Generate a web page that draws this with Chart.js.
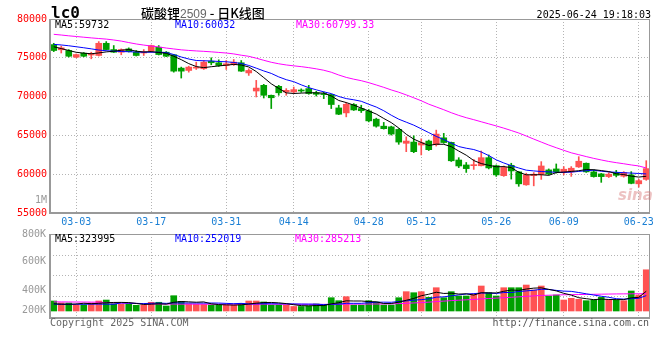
<!DOCTYPE html>
<html><head><meta charset="utf-8">
<script src="https://cdn.jsdelivr.net/npm/chart.js@4.4.1/dist/chart.umd.min.js"></script>
<style>
html,body{margin:0;padding:0;background:#fff;}
#wrap{position:relative;width:660px;height:360px;overflow:hidden;font-family:"DejaVu Sans Mono",monospace;}
canvas{position:absolute;left:0;top:0;}
.t{position:absolute;white-space:nowrap;font-size:10px;line-height:10px;}
.bg{background:#fff;}
</style></head><body>
<div id="wrap">
<canvas id="vol" width="660" height="360"></canvas>
<canvas id="price" width="660" height="360"></canvas>
<div class="t" style="left:51px;top:5px;font-size:16px;line-height:16px;font-weight:bold;color:#000">lc0</div>
<div class="t" style="left:141px;top:5px;font-family:'Noto Sans CJK SC';font-size:13px;line-height:15px;font-weight:500;color:#000">碳酸锂<span style="font-family:'Liberation Sans';font-size:12px;font-weight:normal;color:#666">2509</span> - 日K线图</div>
<div class="t" style="right:9px;top:10px;color:#000">2025-06-24 19:18:03</div>
<div class="t bg" style="left:55px;top:20px;line-height:9px;color:#000">MA5:59732</div>
<div class="t bg" style="left:175px;top:20px;line-height:9px;color:#0000ff">MA10:60032</div>
<div class="t bg" style="left:296px;top:20px;line-height:9px;color:#ff00ff">MA30:60799.33</div>
<div class="t" style="left:35px;top:195px;color:#999">1M</div>
<div class="t" style="left:618px;top:188px;font-family:'DejaVu Sans';font-style:italic;font-weight:bold;font-size:15px;line-height:15px;color:rgba(215,120,120,0.45)">sina</div>
<div class="t bg" style="left:55px;top:235px;line-height:8px;color:#000">MA5:323995</div>
<div class="t bg" style="left:175px;top:235px;line-height:8px;color:#0000ff">MA10:252019</div>
<div class="t bg" style="left:295px;top:235px;line-height:8px;color:#ff00ff">MA30:285213</div>
<div class="t" style="left:50px;top:318px;color:#666">Copyright 2025 SINA.COM</div>
<div class="t" style="right:11px;top:318px;color:#555">http://finance.sina.com.cn</div>
</div>
<script>
const dates = ['02-26','02-27','02-28',
'03-03','03-04','03-05','03-06','03-07','03-10','03-11','03-12','03-13','03-14','03-17','03-18','03-19','03-20','03-21','03-24','03-25','03-26','03-27','03-28','03-31',
'04-01','04-02','04-03','04-07','04-08','04-09','04-10','04-11','04-14','04-15','04-16','04-17','04-18','04-21','04-22','04-23','04-24','04-25','04-28','04-29','04-30',
'05-06','05-07','05-08','05-09','05-12','05-13','05-14','05-15','05-16','05-19','05-20','05-21','05-22','05-23','05-26','05-27','05-28','05-29','05-30',
'06-03','06-04','06-05','06-06','06-09','06-10','06-11','06-12','06-13','06-16','06-17','06-18','06-19','06-20','06-23','06-24'];
const tickDates = ['03-03','03-17','03-31','04-14','04-28','05-12','05-26','06-09','06-23'];

const opens = [76700,76030,75940,75080,75590,75360,75300,76870,76060,75720,
76150,75720,75620,75850,76360,75720,75390,73670,73370,73670,
73590,74560,74360,74010,74140,74360,73050,70720,71450,70170,
71320,70590,70600,70800,71030,70510,70390,70260,68540,67900,
68980,68460,68150,67090,66190,66100,65770,63980,64140,63760,
64270,63800,64690,64100,61830,61190,61100,61090,62130,61100,
59810,61150,60300,58630,59810,59970,60550,60680,60230,60300,
60940,61410,60300,60040,59690,60210,59740,59910,58760,59330];
const highs = [76870,76510,76060,75490,75680,75720,77090,77090,76580,76150,
76280,75940,76060,76640,76580,75810,75420,73800,73920,74440,
74650,75000,74740,74650,74780,74650,73590,72090,71580,70200,
71450,71030,71230,71000,71450,70680,70590,70300,68890,69230,
69100,68890,68330,67220,66670,66190,65870,64820,64950,64560,
64400,65680,65260,64140,62130,61510,61900,62990,62480,61190,
61060,61410,60360,60130,60210,61620,60680,61320,60980,60980,
62260,61450,60550,60100,60210,60490,60330,60330,59360,61740];
const lows = [75800,75620,75100,75000,75130,74870,75230,76000,75680,75390,
75740,75230,75300,75780,75360,75140,73150,72390,73150,73500,
73500,74100,73890,73500,74010,73240,72730,69950,69820,68460,
70170,70170,70390,70550,70300,70070,69740,68460,67670,67390,
68210,67950,66740,66060,65810,65040,63850,62900,62770,62480,
63050,63630,63980,61640,60850,60230,60620,61060,60680,59720,
59720,59370,58440,58570,58500,59330,59910,60130,59910,59720,
60870,60230,59620,58950,59570,59650,59620,58760,58330,59210];
const closes = [75940,76280,75200,75420,75200,75490,76870,76060,75720,76060,
75810,75300,75680,76580,75420,75200,73280,73280,73800,73800,
74440,74360,74010,74230,74440,73280,73370,71100,70170,69850,
70490,70810,70900,70720,70390,70300,70260,68980,67730,69010,
68280,68180,66870,66190,65870,65170,64140,64270,62900,64050,
63160,65170,64080,61730,61060,60720,61180,62130,60810,59910,
60870,60420,58760,59910,60000,61060,60010,60300,60640,60770,
61670,60300,59690,59690,60000,59850,60210,58820,59170,60720];

const ma5 = [76420,76190,75940,75710,75600,75520,75630,75760,75850,75980,
76060,75850,75750,75800,75680,75580,75200,74760,74250,73870,
73730,73850,73950,74050,74150,74070,73820,73230,72450,71650,
71050,70480,70400,70450,70500,70480,70450,70080,69500,69230,
68900,68520,68150,67750,67180,66650,65950,65150,64520,64090,
63700,63870,63850,63550,62980,62450,61760,61370,61150,60960,
60980,60850,60250,59920,59930,59930,59850,60210,60270,60360,
60450,60600,60580,60470,60340,60060,59950,59750,59630,59732];
const ma10 = [76731,76654,76551,76423,76295,76154,76000,75910,75859,75808,
75782,75744,75718,75718,75718,75680,75423,75103,74846,74654,
74616,74590,74526,74487,74398,74269,74013,73667,73308,72987,
72539,72180,71923,71513,71154,70872,70616,70385,70013,69744,
69590,69398,69013,68654,68180,67603,67090,66706,66321,65847,
65360,64872,64462,64013,63565,63347,63180,62860,62400,61850,
61450,61100,60800,60520,60424,60347,60296,60244,60232,60270,
60360,60449,60514,60385,60296,60244,60193,60142,60091,60032];
const ma30 = [78026,77936,77833,77744,77654,77564,77487,77410,77295,77154,
76962,76782,76641,76513,76398,76256,76141,76026,75949,75885,
75834,75769,75693,75616,75500,75334,75192,74949,74680,74423,
74231,74077,73962,73859,73731,73577,73398,73141,72782,72474,
72244,72051,71795,71500,71193,70859,70564,70218,69846,69462,
69026,68667,68308,67924,67577,67282,67026,66757,66488,66219,
65936,65629,65308,64924,64526,64141,63757,63411,63077,62757,
62513,62270,62039,61834,61641,61487,61346,61193,61064,60799.33];

const volumes = [164000,134000,131000,103000,103000,131000,164000,180000,120000,110000,
115000,93000,98000,143000,143000,82000,251000,159000,115000,112000,
108000,98000,93000,93000,93000,126000,164000,164000,148000,98000,
98000,98000,74000,74000,82000,115000,98000,218000,169000,235000,
98000,98000,169000,148000,98000,98000,218000,317000,300000,317000,
225000,382000,218000,317000,246000,246000,279000,410000,300000,246000,
382000,382000,382000,426000,344000,410000,246000,262000,180000,208000,
192000,169000,180000,225000,180000,180000,169000,328000,262000,676000];
const vma5 = [118000,112000,110000,115000,127000,120000,126000,136000,140000,141000,
138000,124000,107000,112000,118000,112000,143000,156000,150000,144000,
149000,118000,105000,101000,97000,101000,114000,128000,139000,140000,
134000,121000,103000,88000,85000,89000,89000,117000,136000,167000,
164000,164000,154000,150000,122000,122000,146000,176000,206000,250000,
275000,308000,288000,292000,278000,282000,261000,300000,296000,296000,
323000,344000,338000,360000,375000,380000,355000,330000,290000,261000,
218000,202000,186000,195000,189000,187000,187000,216000,224000,323995];
const vma10 = [112000,110000,109000,110000,111000,112000,113000,112000,110000,134000,
129000,125000,122000,126000,130000,125000,134000,131000,131000,131000,
130000,131000,130000,125000,120000,125000,116000,117000,120000,119000,
118000,118000,116000,114000,113000,112000,105000,110000,112000,126000,
126000,126000,136000,143000,145000,143000,155000,165000,178000,186000,
199000,227000,232000,249000,264000,279000,285000,294000,294000,287000,
303000,303000,319000,330000,340000,356000,353000,338000,326000,322000,
303000,282000,262000,242000,225000,202000,195000,201000,209000,252019];
const vma30 = [150000,149000,148000,147000,147000,146000,145000,138000,132000,128000,
126000,125000,118000,116000,115000,114000,114000,113000,113000,112000,
112000,111000,111000,110000,110000,110000,111000,111000,112000,112000,
111000,111000,110000,110000,110000,109000,109000,110000,111000,112000,
113000,113000,114000,115000,116000,117000,121000,126000,132000,138000,
145000,155000,162000,170000,177000,183000,190000,198000,205000,211000,
218000,225000,232000,240000,248000,255000,259000,263000,266000,268000,
270000,272000,274000,276000,278000,280000,281000,282000,283000,285213];

const priceTicks = [55000,60000,65000,70000,75000,80000];
const volTickValues = [16400,344400,820000,1262800];
const volTickLabels = ['200K','400K','600K','800K'];
const volGridValues = [246000,578920,906920];

const RED = '#ff5252', GREEN = '#00a000', GRID = '#b4b4b4';
const MONO = "'DejaVu Sans Mono', monospace";
const up = closes.map((c,i)=> c >= opens[i]);
const colors = up.map(u => u ? RED : GREEN);
const tickIdx = new Set(tickDates.map(d => dates.indexOf(d)));

const framePlugin = {
  id: 'frame',
  afterDraw(chart) {
    const a = chart.chartArea, c = chart.ctx;
    c.save();
    c.strokeStyle = '#999';
    c.lineWidth = 1;
    c.beginPath();
    c.moveTo(a.left, a.top + 0.5); c.lineTo(a.right, a.top + 0.5);
    c.moveTo(a.right - 0.5, a.top); c.lineTo(a.right - 0.5, a.bottom);
    c.stroke();
    c.lineWidth = 2;
    c.beginPath();
    c.moveTo(a.left, a.top); c.lineTo(a.left, a.bottom + 1);
    c.moveTo(a.left, a.bottom); c.lineTo(a.right, a.bottom);
    c.stroke();
    c.restore();
  }
};

const xCommon = (showLabels) => ({
  type: 'category', offset: true,
  grid: { offset: false, drawTicks: false, lineWidth: 1,
    color: ctx => tickIdx.has(ctx.index) ? GRID : 'rgba(0,0,0,0)' },
  border: { display: false, dash: [1,2] },
  ticks: { display: showLabels, autoSkip: false, maxRotation: 0, minRotation: 0, padding: 3,
    color: '#1a7fd4', font: { family: MONO, size: 10 },
    callback: (v, i) => tickIdx.has(i) ? dates[i] : '' },
  afterFit: s => { s.height = showLabels ? 20 : 0; }
});

new Chart(document.getElementById('price'), {
  type: 'bar',
  data: {
    labels: dates,
    datasets: [
      { type: 'line', data: ma5, borderColor: '#000', borderWidth: 1, pointRadius: 0, order: 0 },
      { type: 'line', data: ma10, borderColor: '#0000ff', borderWidth: 1, pointRadius: 0, order: 0 },
      { type: 'line', data: ma30, borderColor: '#ff00ff', borderWidth: 1, pointRadius: 0, order: 0 },
      { type: 'bar', data: opens.map((o,i)=>[Math.min(o,closes[i]), Math.max(o,closes[i])]),
        backgroundColor: colors, barThickness: 6, minBarLength: 1, grouped: false, order: 2 },
      { type: 'bar', data: lows.map((l,i)=>[l, highs[i]]),
        backgroundColor: colors, barThickness: 1, grouped: false, order: 3 }
    ]
  },
  options: {
    responsive: false, animation: false, events: [],
    layout: { padding: { top: 19, bottom: 127, left: 0, right: 10 } },
    plugins: { legend: { display: false }, tooltip: { enabled: false } },
    scales: {
      x: xCommon(true),
      y: {
        min: 55000, max: 80000,
        afterBuildTicks: s => { s.ticks = priceTicks.map(v => ({ value: v })); },
        ticks: { autoSkip: false, color: '#ff0000', font: { family: MONO, size: 10 }, padding: 3,
          callback: v => String(v) },
        grid: { drawTicks: false, lineWidth: 1,
          color: ctx => (ctx.tick && ctx.tick.value > 55000 && ctx.tick.value < 80000) ? GRID : 'rgba(0,0,0,0)' },
        border: { display: false, dash: [1,2] },
        afterFit: s => { s.width = 50; }
      }
    }
  },
  plugins: [framePlugin]
});

const volTicksAll = [...volGridValues, ...volTickValues].sort((a,b)=>a-b);
new Chart(document.getElementById('vol'), {
  type: 'bar',
  data: {
    labels: dates,
    datasets: [
      { type: 'line', data: vma5, borderColor: '#000', borderWidth: 1, pointRadius: 0, order: 0 },
      { type: 'line', data: vma10, borderColor: '#0000ff', borderWidth: 1, pointRadius: 0, order: 0 },
      { type: 'line', data: vma30, borderColor: '#ff00ff', borderWidth: 1, pointRadius: 0, order: 0 },
      { type: 'bar', data: volumes, backgroundColor: colors, barThickness: 6, order: 2 }
    ]
  },
  options: {
    responsive: false, animation: false, events: [],
    layout: { padding: { top: 234, bottom: 42, left: 0, right: 10 } },
    plugins: { legend: { display: false }, tooltip: { enabled: false } },
    scales: {
      x: xCommon(false),
      y: {
        min: -114800, max: 1262800,
        afterBuildTicks: s => { s.ticks = volTicksAll.map(v => ({ value: v })); },
        ticks: { autoSkip: false, color: '#999', font: { family: MONO, size: 10 }, padding: 4,
          callback: v => { const k = volTickValues.indexOf(v); return k >= 0 ? volTickLabels[k] : ''; } },
        grid: { drawTicks: false, lineWidth: 1,
          color: ctx => (ctx.tick && volGridValues.includes(ctx.tick.value)) ? GRID : 'rgba(0,0,0,0)' },
        border: { display: false, dash: [1,2] },
        afterFit: s => { s.width = 50; }
      }
    }
  },
  plugins: [framePlugin]
});
</script>
</body></html>
